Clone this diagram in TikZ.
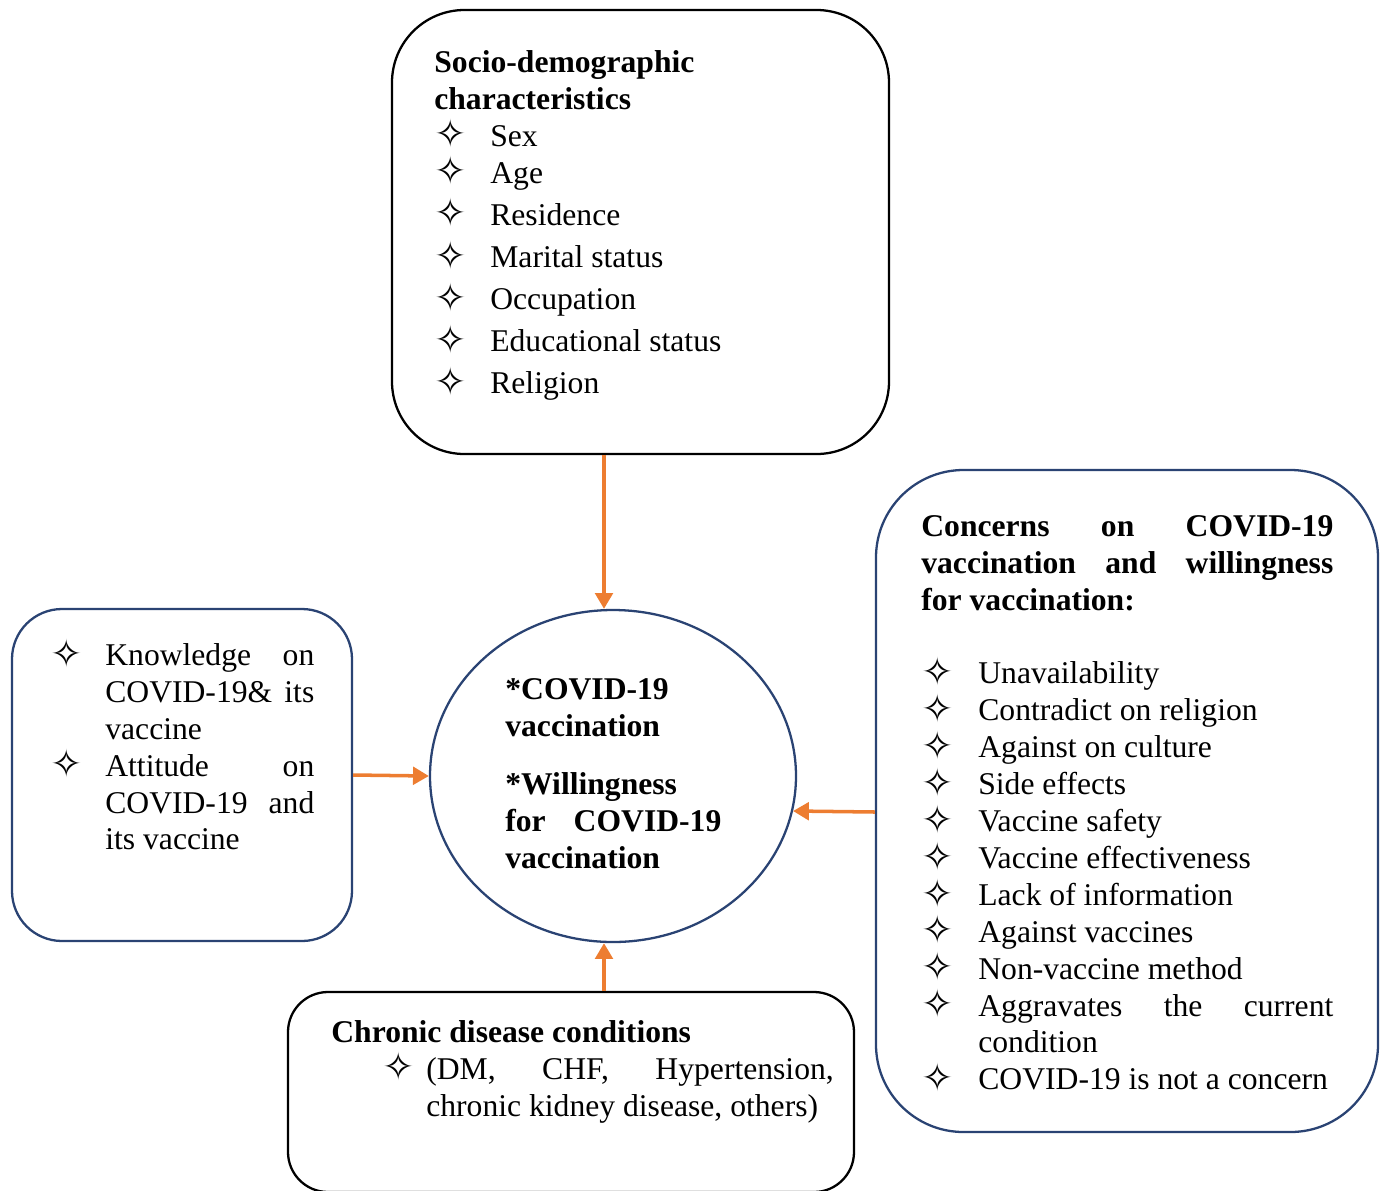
\documentclass[tikz,border=0pt]{standalone}
\usepackage{fontspec}
\setmainfont{Liberation Serif}
\newfontfamily\symfont{DejaVu Sans}
\usetikzlibrary{arrows.meta}
\usetikzlibrary{shapes}
\definecolor{arrorange}{HTML}{ED7D31}
\definecolor{boxblue}{HTML}{2A4373}
\newcommand{\fstar}{\raisebox{-1pt}{\symfont\fontsize{22}{21}\selectfont\char"2727}}
\newlength{\itmindent}
\newcommand{\itm}[1]{\noindent\hangindent=\itmindent\hangafter=1\makebox[\itmindent][l]{\fstar}#1\par}

\begin{document}
\begin{tikzpicture}[>={Triangle[length=9pt,width=10pt]},
    every node/.style = {inner sep=0pt},
    blackbox/.style = {draw, line width=1.3pt},
    bluebox/.style = {draw=boxblue, line width=1.3pt},
    txt/.style = {anchor=north west, align=justify, font=\fontsize{18}{21}\selectfont},
    arr/.style = {->, color=arrorange, line width=2pt}]
    \useasboundingbox (0,0) rectangle (27.64,-23.8);
    % Nodes

    \node[blackbox, rounded corners=1.45cm, minimum width=9.94cm, minimum height=8.88cm] (socio) at (12.81,-4.64) {};
    \node[bluebox, ellipse, minimum width=7.32cm, minimum height=6.64cm] (vacc) at (12.26,-15.52) {};
    \node[bluebox, rounded corners=1.0cm, minimum width=6.8cm, minimum height=6.64cm] (know) at (3.64,-15.5) {};
    \node[bluebox, rounded corners=1.75cm, minimum width=10.04cm, minimum height=13.24cm] (concern) at (22.54,-16.02) {};
    \node[blackbox, rounded corners=0.8cm, minimum width=11.32cm, minimum height=4.0cm] (chronic) at (11.42,-21.84) {};

    \node[txt, text width=8.5cm] (sociotxt) at (8.68,-1.0) {\setlength{\itmindent}{1.12cm}%
        \textbf{Socio-demographic}\par\textbf{characteristics}\par
        \itm{Sex}\itm{Age}\setlength{\baselineskip}{24pt}\itm{Residence}\itm{Marital status}%
        \itm{Occupation}\itm{Educational status}\itm{Religion}};

    \node[txt, text width=5.28cm] (knowtxt) at (1.0,-12.76) {\setlength{\itmindent}{1.1cm}%
        \itm{Knowledge on\linebreak COVID-19\& its\linebreak vaccine}%
        \itm{Attitude on\linebreak COVID-19 and\linebreak its vaccine}};

    \node[txt, text width=4.32cm, font=\fontsize{18}{21}\selectfont\bfseries] (vacctxt) at (10.1,-13.56) {%
        *COVID-19\par vaccination\par\vspace{12pt}%
        *Willingness\par for COVID-19\linebreak vaccination\par};

    \node[txt, text width=8.24cm] (concerntxt) at (18.42,-10.3) {\setlength{\itmindent}{1.14cm}%
        \textbf{Concerns on COVID-19\linebreak vaccination and willingness\linebreak for vaccination:}\par\vspace{21pt}%
        \itm{Unavailability}\itm{Contradict on religion}\itm{Against on culture}%
        \itm{Side effects}\itm{Vaccine safety}\itm{Vaccine effectiveness}%
        \itm{Lack of information}\itm{Against vaccines}\itm{Non-vaccine method}%
        \itm{Aggravates the current\linebreak condition}\itm{COVID-19 is not a concern}};

    \node[txt, text width=10.05cm] (chronictxt) at (6.62,-20.4) {%
        \textbf{Chronic disease conditions}\par
        \noindent\hangindent=1.9cm\hangafter=1\hspace*{1.02cm}\makebox[0.88cm][l]{\fstar}%
        (DM, CHF, Hypertension,\linebreak chronic kidney disease, others)\par};

    % Edges

    \draw[arr] ([xshift=-0.18cm]vacc.north |- socio.south) -- ([xshift=-0.18cm]vacc.north);
    \draw[arr] (know.east) -- (vacc.west);
    \draw[arr] ([yshift=-0.22cm]concern.west) -- (vacc.-11);
    \draw[arr] ([xshift=-0.18cm]vacc.south |- chronic.north) -- ([xshift=-0.18cm]vacc.south);

\end{tikzpicture}
\end{document}
